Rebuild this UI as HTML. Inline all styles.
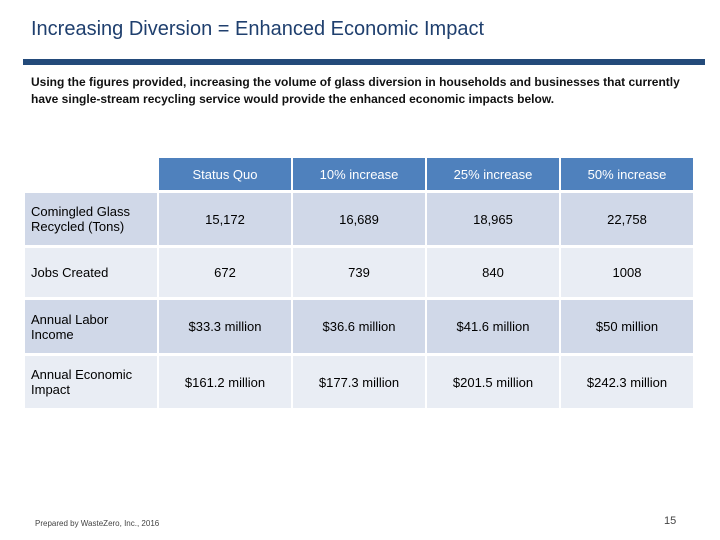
<!DOCTYPE html>
<html><head><meta charset="utf-8"><style>
body{margin:0;width:720px;height:540px;background:#fff;position:relative;overflow:hidden;font-family:"Liberation Sans",sans-serif;}
.t{position:absolute;}
table{position:absolute;left:23px;top:155px;border-collapse:separate;border-spacing:2px 3px;}
td{padding:0;font-size:13px;color:#000;text-align:center;vertical-align:middle;width:132px;}
td.l{text-align:left;padding-left:6px;padding-right:20px;width:106px;}
.h td{background:#4f81bd;color:#fff;height:32px;}
.h td.e{background:none;}
.d td{background:#d0d8e8;}
.w td{background:#e9edf4;}
</style></head><body>
<div class="t" style="left:31px;top:18px;font-size:20px;color:#1f3f6e;">Increasing Diversion = Enhanced Economic Impact</div>
<div class="t" style="left:23px;top:59px;width:682px;height:6px;background:#234a7a;"></div>
<div class="t" style="left:31px;top:74px;width:670px;font-size:12px;font-weight:bold;line-height:17px;color:#111;">Using the figures provided, increasing the volume of glass diversion in households and businesses that currently have single-stream recycling service would provide the enhanced economic impacts below.</div>
<table>
<tr class="h"><td class="e"></td><td>Status Quo</td><td>10% increase</td><td>25% increase</td><td>50% increase</td></tr>
<tr class="d" style="height:52px"><td class="l">Comingled Glass Recycled (Tons)</td><td>15,172</td><td>16,689</td><td>18,965</td><td>22,758</td></tr>
<tr class="w" style="height:49px"><td class="l">Jobs Created</td><td>672</td><td>739</td><td>840</td><td>1008</td></tr>
<tr class="d" style="height:53px"><td class="l">Annual Labor Income</td><td>$33.3 million</td><td>$36.6 million</td><td>$41.6 million</td><td>$50 million</td></tr>
<tr class="w" style="height:52px"><td class="l">Annual Economic Impact</td><td>$161.2 million</td><td>$177.3 million</td><td>$201.5 million</td><td>$242.3 million</td></tr>
</table>
<div class="t" style="left:35px;top:519px;font-size:8px;color:#444;">Prepared by WasteZero, Inc., 2016</div>
<div class="t" style="left:664px;top:515px;font-size:11px;color:#444;">15</div>
</body></html>
